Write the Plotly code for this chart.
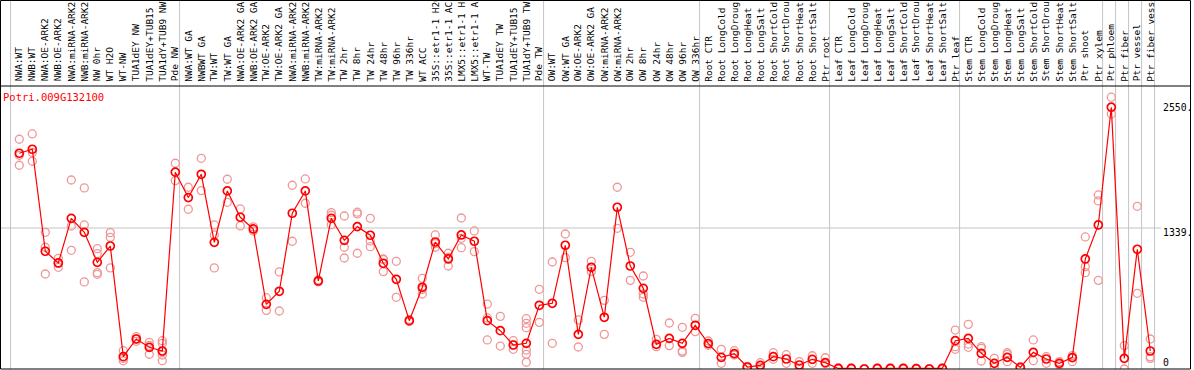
import plotly.graph_objects as go

gene = "Potri.009G132100"

labels = [
    "NWA:WT", "NWB:WT", "NWA:OE-ARK2", "NWB:OE-ARK2", "NWA:miRNA-ARK2", "NWB:miRNA-ARK2",
    "NW 0hr", "WT H2O", "WT-NW", "TUA1dEY NW", "TUA1dEY+TUB15", "TUA1dY+TUB9 NW", "Pde NW",
    "NWA:WT GA", "NWBWT GA", "TW:WT", "TW:WT GA", "NWA:OE-ARK2 GA", "NWB:OE-ARK2 GA",
    "TW:OE-ARK2", "TW:OE-ARK2 GA", "NWA:miRNA-ARK2", "NWB:miRNA-ARK2", "TW:miRNA-ARK2",
    "TW:miRNA-ARK2", "TW 2hr", "TW 8hr", "TW 24hr", "TW 48hr", "TW 96hr", "TW 336hr",
    "WT ACC", "35S::etr1-1 H2O", "35S::etr1-1 ACC", "LMX5::etr1-1 H2O", "LMX5::etr1-1 ACC",
    "WT-TW", "TUA1dEY TW", "TUA1dEY+TUB15", "TUA1dY+TUB9 TW", "Pde TW",
    "OW:WT", "OW:WT GA", "OW:OE-ARK2", "OW:OE-ARK2 GA", "OW:miRNA-ARK2", "OW:miRNA-ARK2",
    "OW 2hr", "OW 8hr", "OW 24hr", "OW 48hr", "OW 96hr", "OW 336hr",
    "Root CTR", "Root LongCold", "Root LongDrought", "Root LongHeat", "Root LongSalt",
    "Root ShortCold", "Root ShortDrought", "Root ShortHeat", "Root ShortSalt", "Ptr root",
    "Leaf CTR", "Leaf LongCold", "Leaf LongDrought", "Leaf LongHeat", "Leaf LongSalt",
    "Leaf ShortCold", "Leaf ShortDrought", "Leaf ShortHeat", "Leaf ShortSalt", "Ptr leaf",
    "Stem CTR", "Stem LongCold", "Stem LongDrought", "Stem LongHeat", "Stem LongSalt",
    "Stem ShortCold", "Stem ShortDrought", "Stem ShortHeat", "Stem ShortSalt",
    "Ptr shoot", "Ptr xylem", "Ptr phloem", "Ptr fiber", "Ptr vessel", "Ptr fiber vessel",
]

means = [
    2049, 2087, 1118, 1007, 1431, 1298, 1013, 1168, 117, 285, 206, 171, 1869,
    1628, 1849, 1203, 1691, 1441, 1330, 614, 738, 1479, 1691, 836, 1431, 1222, 1352,
    1270, 1004, 852, 459, 776, 1206, 1045, 1273, 1213, 459, 364, 228, 244, 605,
    624, 1175, 329, 966, 491, 1536, 978, 766, 234, 291, 244, 415,
    241, 111, 146, 19, 35, 117, 95, 38, 92, 60,
    5, 5, 0, 5, 5, 5, 3, 0, 5, 269,
    291, 149, 54, 111, 16, 158, 95, 54, 108, 1045, 1368,
    2486, 101, 1137, 171,
]

replicates = [
    [2182, 2030, 1935], [2232, 2056, 1973], [1298, 1156, 902], [1051, 1004, 966],
    [1795, 1358, 1127], [1720, 1368, 827], [1143, 1096, 915, 899], [1295, 1250, 960],
    [174, 100, 78], [307, 285, 263], [253, 225, 140], [269, 244, 165, 133, 79],
    [1954, 1789],
    [1726, 1517], [2001, 1694], [1368, 1273, 960], [1802, 1583], [1520, 1359],
    [1350, 1310], [677, 557], [922, 551], [1745, 1213], [1805, 1574], [845, 828],
    [1485, 1460, 1371], [1453, 1156, 1054], [1489, 1473, 1099], [1431, 1216, 1162],
    [1045, 1040, 925], [1023, 681], [470, 452], [861, 755, 712], [1273, 1190, 1156],
    [1099, 1060, 978], [1434, 1241, 1152], [1311, 1115], [617, 485, 276], [500, 218],
    [269, 228, 187], [478, 434, 392, 180, 139, 64], [757, 443],
    [1016, 244], [1282, 1058], [466, 209], [1023, 925], [652, 329], [1726, 1336],
    [1108, 842], [883, 712, 681], [282, 212], [437, 222], [396, 171, 158], [481, 355],
    [266, 225], [187, 54], [174, 133], [25, 10], [60, 12], [155, 92], [136, 54],
    [70, 10], [126, 54], [107, 50],
    [10, 0], [8, 0], [0, 0], [8, 0], [8, 0], [8, 0], [5, 0], [0, 0], [8, 0],
    [370, 212, 187],
    [424, 237, 206], [212, 196, 76], [101, 16], [155, 140, 70], [20, 10], [276, 79],
    [117, 54], [70, 40], [127, 70], [1254, 972, 915], [1653, 1596, 842],
    [2581, 2422], [222, 0], [1545, 719], [285, 117, 101],
]

group_starts = [0, 13, 41, 53, 63, 73, 84, 85, 86, 87, 88]
axis_labels = ["2550.", "1339.", "0"]
grid_value = 1339

# ---- layout geometry (pixels) ----
W, H = 1194, 370
L, R, T, B = 1, 3, 86, 1
plot_w = W - L - R
plot_h = H - T - B
first_px, step_px = 19.3, 13.0
x_range = [(L - first_px) / step_px, (W - R - first_px) / step_px]
px_per_unit = 141.0 / 1339.0
y_range = [0, plot_h / px_per_unit]


def pxx(px):
    return (px - L) / plot_w


def pxy(py):
    return (H - B - py) / plot_h


fig = go.Figure()

rx, ry = [], []
for i, reps in enumerate(replicates):
    for v in reps:
        rx.append(i)
        ry.append(v)

fig.add_trace(go.Scatter(
    x=rx, y=ry, mode="markers",
    marker=dict(symbol="circle-open", size=8, color="#f09696", line=dict(width=1.3, color="#f09696")),
    hoverinfo="skip",
))
fig.add_trace(go.Scatter(
    x=list(range(len(means))), y=means, mode="lines+markers",
    line=dict(color="#ff0000", width=1.2),
    marker=dict(symbol="circle-open", size=8, color="#ff0000", line=dict(width=1.7, color="#ff0000")),
))

shapes = []
top_paper = pxy(0)
for g in group_starts:
    shapes.append(dict(type="line", xref="x", yref="paper", x0=g - 0.67, x1=g - 0.67,
                       y0=0, y1=top_paper, line=dict(color="#c4c4c4", width=1), layer="below"))
shapes.append(dict(type="line", xref="paper", yref="y", x0=0, x1=pxx(1161),
                   y0=grid_value, y1=grid_value, line=dict(color="#c4c4c4", width=1), layer="below"))
# frame
shapes.append(dict(type="rect", xref="paper", yref="paper", x0=pxx(0.5), x1=pxx(1190.5),
                   y0=pxy(369), y1=pxy(0.5), line=dict(color="black", width=1)))
shapes.append(dict(type="line", xref="paper", yref="paper", x0=pxx(0.5), x1=pxx(1190.5),
                   y0=pxy(86), y1=pxy(86), line=dict(color="black", width=1)))

annotations = []
for i, lab in enumerate(labels):
    annotations.append(dict(
        x=i, xref="x", y=pxy(82.5), yref="paper", text=lab, showarrow=False,
        textangle=-90, xanchor="center", yanchor="bottom", borderpad=0,
        font=dict(family="DejaVu Sans Mono", size=9.5, color="black"),
    ))
annotations.append(dict(
    x=pxx(2), xref="paper", y=pxy(97), yref="paper", text=gene, showarrow=False,
    xanchor="left", yanchor="middle", borderpad=0,
    font=dict(family="DejaVu Sans Mono", size=10.5, color="#ff0000"),
))
for lab, cy in zip(axis_labels, [107.3, 232.3, 362]):
    annotations.append(dict(
        x=pxx(1162), xref="paper", y=pxy(cy), yref="paper", text=lab, showarrow=False,
        xanchor="left", yanchor="middle", borderpad=0,
        font=dict(family="DejaVu Sans Mono", size=9.8, color="black"),
    ))

fig.update_layout(
    width=W, height=H,
    margin=dict(l=L, r=R, t=T, b=B, pad=0),
    paper_bgcolor="white", plot_bgcolor="white",
    showlegend=False,
    xaxis=dict(range=x_range, visible=False, fixedrange=True),
    yaxis=dict(range=y_range, visible=False, fixedrange=True),
    shapes=shapes, annotations=annotations,
)

fig.write_html(
    "out.html",
    config={"displayModeBar": False},
    post_script="document.body.style.margin='0';document.body.style.padding='0';document.body.style.overflow='hidden';",
)
